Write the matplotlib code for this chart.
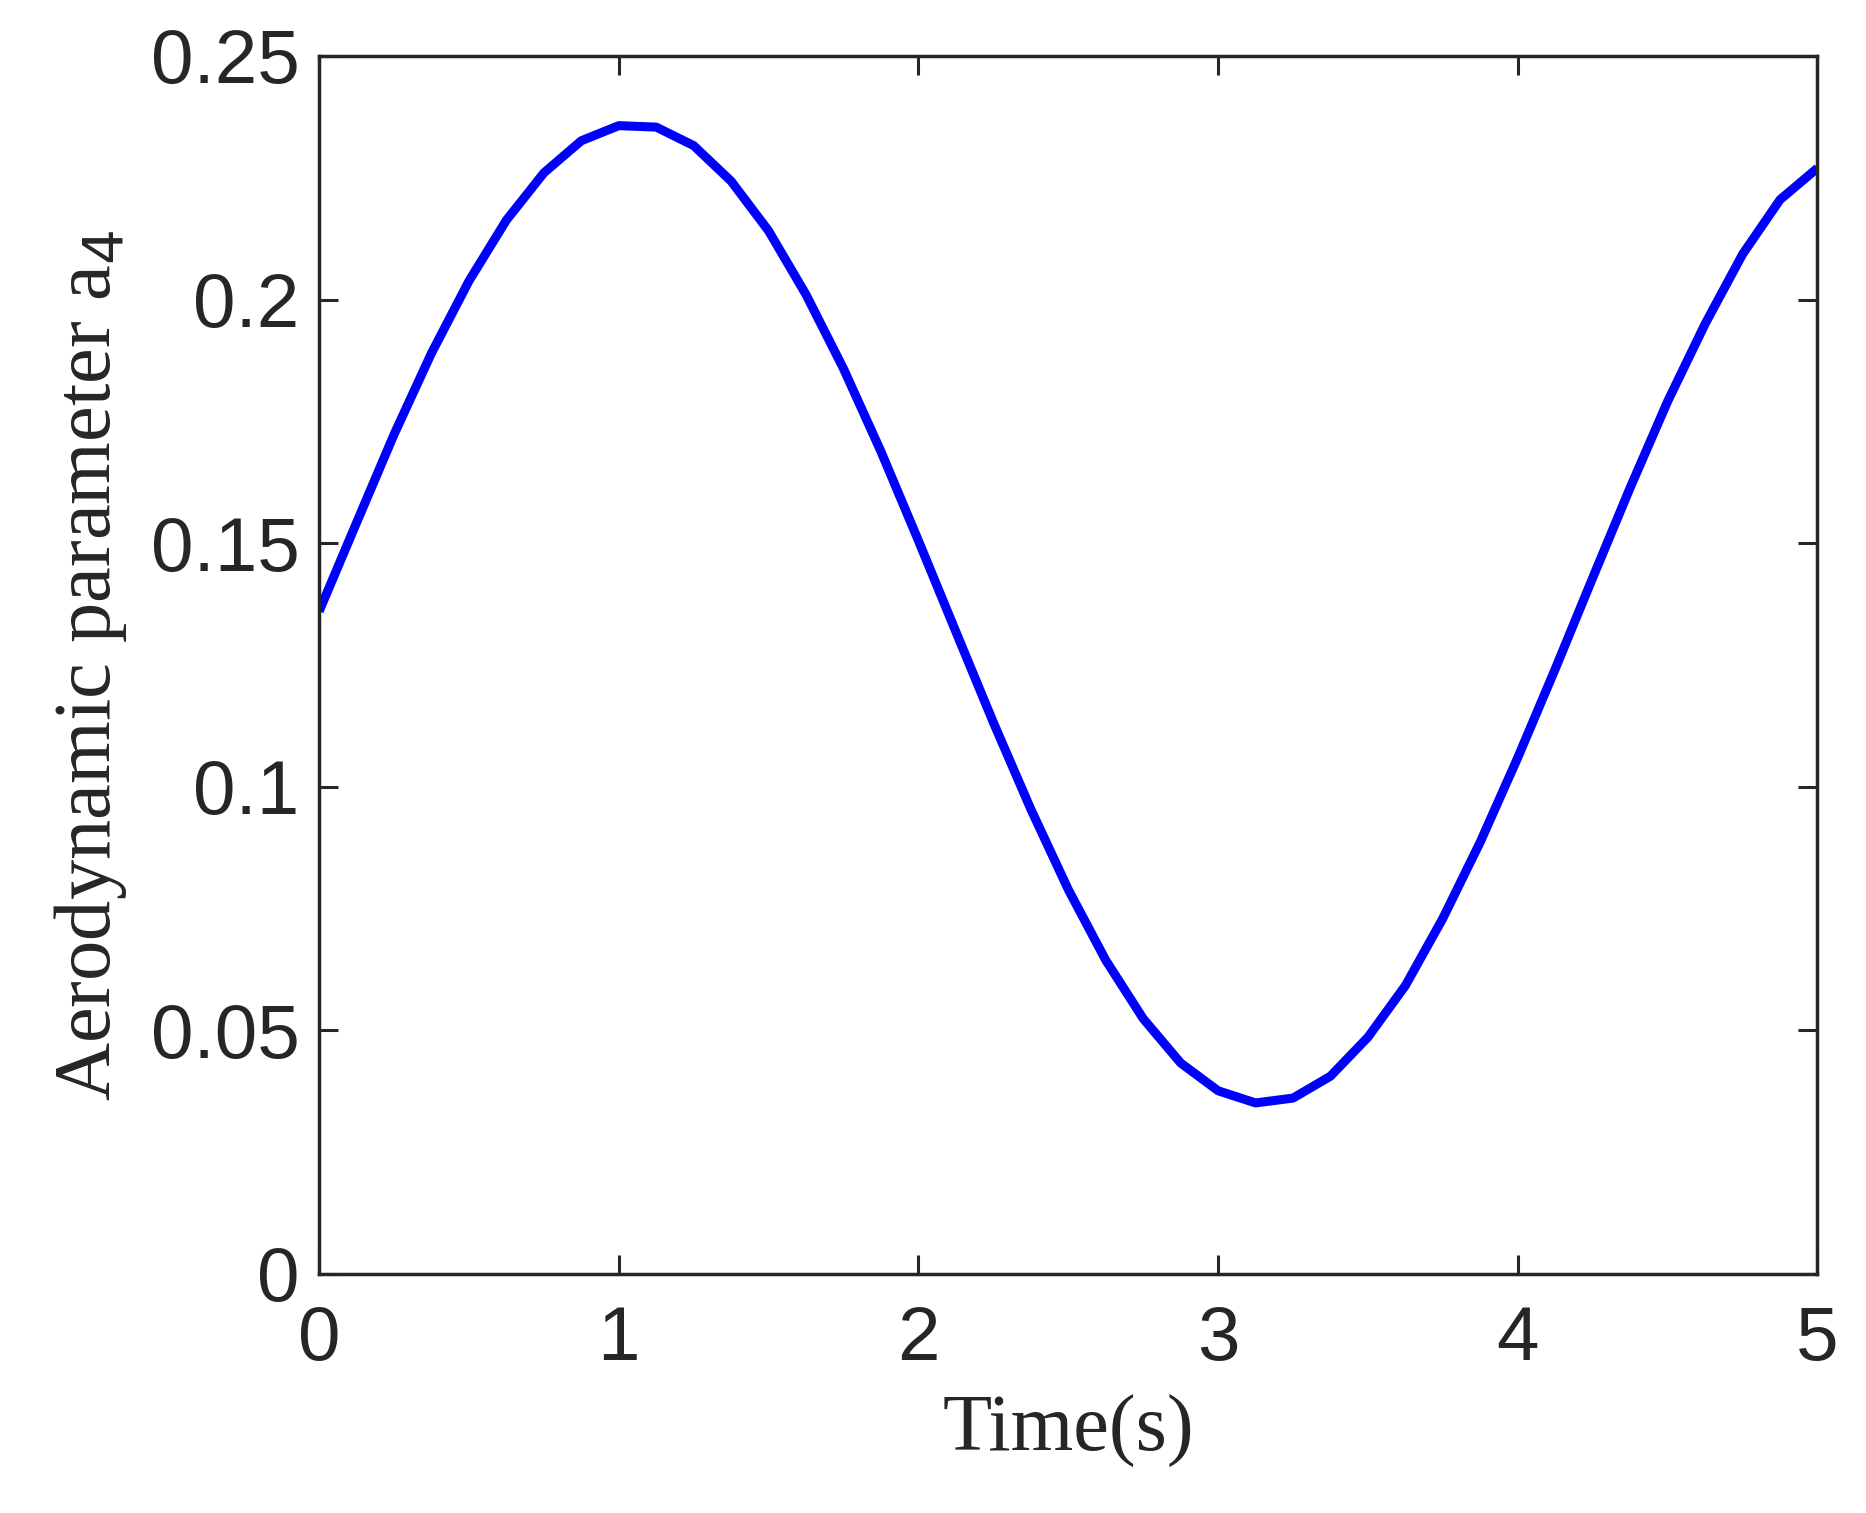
import matplotlib
matplotlib.use("Agg")
import matplotlib.pyplot as plt

t = [0, 0.125, 0.25, 0.375, 0.5, 0.625, 0.75, 0.875, 1.0, 1.125, 1.25, 1.375, 1.5, 1.625, 1.75, 1.875,
     2.0, 2.125, 2.25, 2.375, 2.5, 2.625, 2.75, 2.875, 3.0, 3.125, 3.25, 3.375, 3.5, 3.625, 3.75, 3.875,
     4.0, 4.125, 4.25, 4.375, 4.5, 4.625, 4.75, 4.875, 5.0]
a4 = [0.1360, 0.1542, 0.1723, 0.1890, 0.2038, 0.2163, 0.2260, 0.2326, 0.2357, 0.2354, 0.2316, 0.2243,
      0.2141, 0.2010, 0.1858, 0.1688, 0.1505, 0.1318, 0.1132, 0.0954, 0.0789, 0.0644, 0.0524, 0.0433,
      0.0376, 0.0351, 0.0361, 0.0406, 0.0486, 0.0592, 0.0730, 0.0887, 0.1060, 0.1242, 0.1429, 0.1614,
      0.1791, 0.1950, 0.2093, 0.2205, 0.2270]
xticks = [0, 1, 2, 3, 4, 5]
yticks = [0, 0.05, 0.1, 0.15, 0.2, 0.25]
yticklabels = ["0", "0.05", "0.1", "0.15", "0.2", "0.25"]

fig = plt.figure(figsize=(18.66, 15.13), dpi=100)
ax = fig.add_axes([0.171, 0.158, 0.803, 0.805])
ax.plot(t, a4, color="#0000ff", lw=6.5, solid_joinstyle="round", solid_capstyle="butt")
ax.set_xlim(0, 5)
ax.set_ylim(0, 0.25)
ax.set_xticks(xticks)
ax.set_yticks(yticks)
ax.set_yticklabels(yticklabels)
ax.tick_params(direction="in", length=14, width=2.2, top=True, right=True, labelsize=55,
               colors="#262626")
ax.tick_params(axis="x", pad=22)
ax.tick_params(axis="y", pad=14)
for lab in ax.get_xticklabels() + ax.get_yticklabels():
    lab.set_fontfamily("Liberation Sans")
for s in ax.spines.values():
    s.set_linewidth(2.5)
    s.set_color("#262626")
ax.set_xlabel("Time(s)", fontfamily="Liberation Serif", fontsize=58, color="#262626", labelpad=14)
ax.set_ylabel("Aerodynamic parameter a$_4$", fontfamily="Liberation Serif", fontsize=58,
              color="#262626", labelpad=16)
fig.savefig("out.png", dpi=100)
